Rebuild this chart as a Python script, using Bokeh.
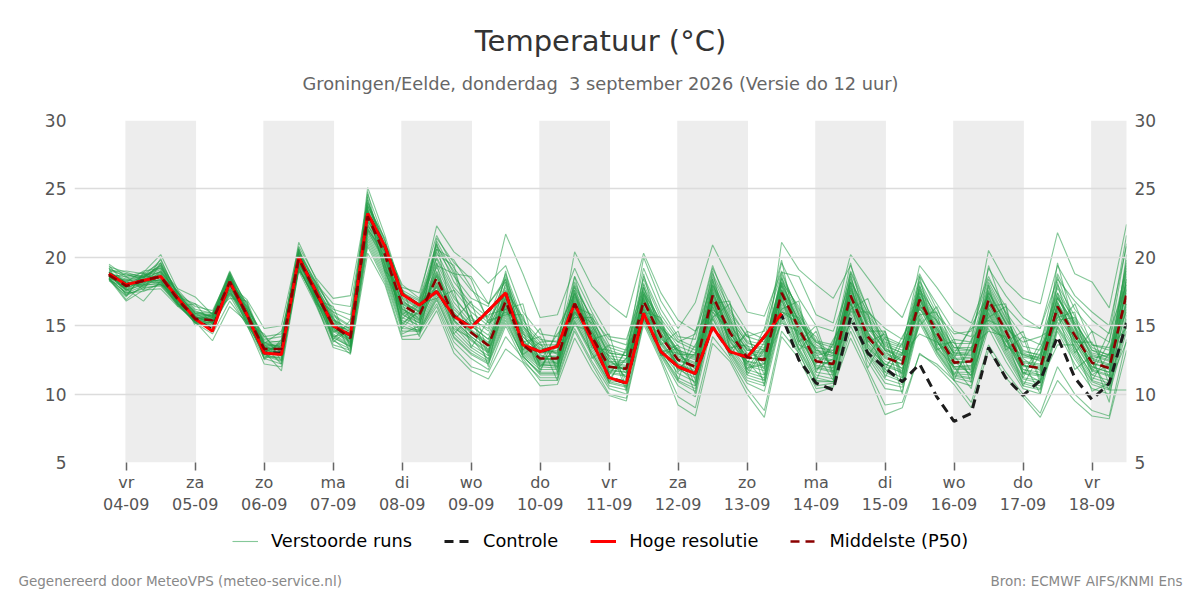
from bokeh.plotting import figure
from bokeh.layouts import column
from bokeh.models import Label, Legend, LegendItem, FixedTicker, LinearAxis
from bokeh.embed import file_html
from bokeh.resources import INLINE

FIRST_HOUR = -6
STEP_HOURS = 6
DAY_LABELS = ["vr\n04-09", "za\n05-09", "zo\n06-09", "ma\n07-09", "di\n08-09", "wo\n09-09", "do\n10-09",
              "vr\n11-09", "za\n12-09", "zo\n13-09", "ma\n14-09", "di\n15-09", "wo\n16-09", "do\n17-09", "vr\n18-09"]
Y_TICKS = [5, 10, 15, 20, 25, 30]

hoge_resolutie = [18.8,18.0,18.3,18.6,17.0,15.5,14.6,18.2,15.8,13.0,12.9,20.0,17.5,15.0,14.3,23.2,20.8,17.3,16.5,17.5,
                  15.7,14.85,16.1,17.4,13.6,13.1,13.5,16.6,13.9,11.2,10.8,15.9,13.1,12.0,11.5,14.9,13.1,12.7,14.2,15.9]
middelste = [18.7,17.9,18.3,18.6,16.9,15.5,15.4,18.2,15.8,13.3,13.3,19.9,17.4,15.0,14.1,23.0,20.2,16.5,15.8,18.5,
             15.7,14.5,13.55,16.8,13.6,12.6,12.6,16.6,14.2,12.0,11.85,16.8,14.2,12.5,12.0,17.2,14.5,12.7,12.5,17.4,
             14.8,12.4,12.2,17.2,14.2,12.7,12.2,16.9,14.5,12.3,12.4,16.9,14.6,12.1,11.9,16.4,14.3,12.3,11.9,17.3]
controle = [18.8,18.0,18.3,18.6,17.0,15.5,14.7,18.2,15.8,13.0,13.0,20.0,17.5,15.0,14.3,23.2,20.8,17.3,16.5,17.5,
            15.7,14.9,16.1,17.4,13.6,13.1,13.5,16.6,13.9,11.2,10.8,15.9,13.1,12.0,11.5,14.9,13.1,12.7,14.2,15.8,
            12.5,10.8,10.3,15.6,13.0,11.9,10.9,12.2,9.8,8.0,8.6,13.4,11.2,9.9,11.0,14.2,11.2,9.6,10.8,15.2]

m01 = [19.5,18.6,18.9,20.2,17.6,16.2,15.9,19.0,16.3,13.9,13.8,21.1,18.4,15.8,15.0,25.1,21.6,17.5,16.4,19.9,17.2,15.4,14.8,18.6,15.0,13.4,13.0,18.2,15.4,13.2,12.8,18.1,15.0,13.2,12.7,18.4,15.2,13.2,12.9,18.8,16.0,13.6,12.9,18.6,15.1,13.6,13.0,18.2,15.4,13.4,13.2,18.0,15.6,13.2,12.8,17.8,15.2,13.4,12.8,19.6]
m02 = [19.0,19.0,18.8,19.6,17.4,16.4,16.1,18.7,16.6,13.6,13.5,20.4,18.0,16.2,15.8,23.8,20.9,18.0,17.0,22.3,20.4,19.4,18.1,19.4,16.0,14.4,14.2,17.8,15.6,14.0,13.6,19.2,16.2,14.2,14.0,19.2,16.6,14.6,14.0,19.6,17.0,15.0,14.6,18.2,16.0,14.8,14.0,17.6,15.8,14.4,14.6,18.4,16.4,15.0,14.8,19.4,17.2,16.0,15.0,20.8]
m03 = [18.6,18.2,19.0,19.2,17.7,17.1,15.8,18.0,16.9,14.8,15.0,20.8,18.5,17.0,17.2,24.2,20.6,17.0,15.4,20.6,18.6,17.0,16.4,21.7,18.8,15.6,15.8,19.2,16.4,14.2,14.0,17.8,14.8,13.8,14.4,19.4,16.0,14.2,13.8,18.2,15.2,13.8,13.4,19.0,16.2,14.2,13.6,18.6,16.6,14.6,14.2,19.2,17.2,15.6,14.8,18.4,16.8,15.4,14.4,21.6]
m04 = [18.9,18.4,18.6,19.8,17.2,15.9,15.7,18.6,15.9,13.8,13.4,20.2,17.8,15.4,14.8,24.6,21.2,17.8,17.4,21.6,19.2,17.6,16.6,18.2,14.8,13.2,13.4,20.4,17.9,16.6,15.6,20.3,17.4,15.4,14.6,18.0,15.4,13.8,13.2,17.6,15.4,13.2,12.8,18.4,15.6,13.8,13.4,19.4,17.8,16.0,15.2,18.6,16.0,14.2,13.6,18.8,16.2,14.6,13.8,19.2]
m05 = [18.5,18.3,18.4,19.0,17.0,15.6,15.5,18.4,16.2,13.4,13.2,19.8,17.2,15.2,14.6,22.8,20.0,16.2,15.6,18.8,16.2,15.0,14.0,17.2,14.2,13.0,13.2,17.2,15.0,13.0,12.8,20.0,16.8,14.8,16.7,20.9,18.4,16.0,15.7,19.0,15.8,13.8,13.0,17.6,15.0,13.2,12.6,17.4,14.8,13.0,12.8,17.4,15.2,13.0,12.6,17.0,15.2,13.2,12.6,18.4]
m06 = [18.8,17.6,18.0,18.4,16.8,15.4,15.2,17.8,15.6,13.2,13.0,19.6,17.2,14.8,13.8,22.4,19.6,16.0,15.2,18.0,15.4,14.2,13.2,16.4,13.4,12.4,12.4,16.2,14.0,11.8,11.6,16.4,13.8,12.2,11.6,16.8,14.2,12.4,12.0,21.1,19.1,18.0,17.0,19.4,16.2,13.4,12.4,16.6,14.2,12.0,12.0,16.6,14.2,11.8,11.4,16.2,14.0,12.0,11.6,17.8]
m07 = [18.6,18.0,18.2,18.8,17.0,15.6,15.6,18.3,15.8,13.4,13.4,19.9,17.5,15.0,14.2,23.2,20.4,16.6,16.0,18.7,15.9,14.6,13.7,17.0,13.8,12.7,12.8,16.8,14.4,12.2,12.0,17.0,14.4,12.7,12.2,17.4,14.7,12.9,12.7,17.6,15.0,12.6,12.4,17.4,14.4,12.9,12.4,17.1,14.7,12.5,12.6,17.1,14.8,12.3,12.1,16.6,14.5,12.5,12.1,17.6]
m08 = [18.7,17.8,18.2,18.4,16.7,15.3,15.2,18.0,15.6,13.2,13.1,19.7,17.2,14.8,13.9,22.7,19.9,16.2,15.5,18.2,15.4,14.2,13.3,16.5,13.3,12.3,12.3,16.3,13.9,11.7,11.6,16.5,13.9,12.2,11.7,16.9,14.2,12.4,12.2,17.1,14.5,12.1,11.9,16.9,13.9,12.4,11.9,16.6,14.2,12.0,12.1,16.6,14.3,11.8,11.6,16.1,14.0,12.0,11.6,17.0]
m09 = [18.4,17.4,17.9,18.2,16.6,15.2,15.0,17.6,15.4,13.0,12.8,19.4,17.0,14.4,13.6,22.0,19.4,15.6,15.0,17.6,15.0,13.6,12.8,16.0,13.0,12.0,11.9,15.8,13.4,11.2,11.0,16.0,13.4,11.8,11.2,16.4,13.6,11.8,11.4,16.6,14.0,11.6,11.4,16.4,13.4,11.8,11.2,16.0,13.6,11.6,11.6,16.0,13.6,11.2,11.0,15.6,13.4,11.4,11.0,16.4]
m10 = [18.9,18.2,18.5,18.9,17.1,15.7,15.7,18.5,16.0,13.5,13.6,20.1,17.6,15.3,14.4,23.4,20.6,17.0,16.2,19.0,16.4,15.0,14.0,17.4,14.2,13.0,13.0,17.0,14.6,12.4,12.3,17.2,14.7,13.0,12.5,17.7,15.0,13.2,13.0,17.9,15.3,13.0,12.7,17.7,14.8,13.2,12.8,17.4,15.0,12.9,13.0,17.4,15.1,12.7,12.5,17.0,14.8,12.8,12.4,18.0]
m11 = [19.1,18.8,18.6,19.4,17.3,15.9,15.8,18.8,16.1,13.7,13.9,20.5,17.9,15.7,14.9,23.8,20.9,17.4,16.8,20.0,17.6,16.0,15.0,18.0,15.0,13.6,13.6,17.6,15.2,13.0,12.8,17.8,15.2,13.5,13.0,18.2,15.6,13.7,13.4,18.4,15.8,13.4,13.2,18.2,15.4,13.7,13.2,17.9,15.6,13.4,13.4,17.8,15.5,13.1,12.9,17.4,15.4,13.2,12.9,18.8]
m12 = [18.3,17.2,17.8,17.9,16.5,15.2,14.8,17.4,15.2,12.8,12.4,19.2,16.8,14.2,13.4,21.6,19.0,15.2,14.6,17.2,14.4,13.2,12.4,15.6,12.7,11.6,11.6,15.4,13.0,10.9,10.6,15.6,13.0,11.2,10.6,15.8,13.2,11.4,11.0,16.2,13.4,11.2,10.9,15.9,13.0,11.4,10.9,15.6,13.2,11.4,11.2,15.6,13.2,10.9,10.6,15.0,13.0,11.0,10.6,15.8]
m13 = [18.4,16.8,17.6,17.7,16.4,15.4,15.0,17.2,15.0,12.6,12.2,19.0,16.5,13.6,13.2,21.0,18.4,14.6,14.6,16.6,13.8,12.6,11.8,15.0,12.4,11.2,11.2,14.8,12.4,10.4,10.0,15.4,12.8,10.6,9.8,15.2,12.8,10.8,10.2,15.4,13.0,10.6,10.8,15.0,12.4,10.4,10.2,15.2,12.8,11.0,10.6,14.8,12.4,10.4,10.0,14.6,12.2,10.4,10.0,14.6]
m14 = [18.6,17.7,16.8,18.3,16.6,15.3,13.9,16.4,15.3,13.1,11.7,19.1,17.0,14.0,12.9,20.3,18.0,14.0,14.0,16.1,13.0,11.7,11.1,13.3,12.3,10.6,10.7,14.1,11.8,9.9,9.5,15.1,12.4,9.2,8.4,13.7,12.4,10.0,8.3,14.2,12.6,10.1,10.5,14.1,11.5,8.5,9.0,13.0,12.0,10.7,9.0,13.2,11.2,9.8,8.3,11.0,9.5,8.4,8.2,13.2]
m15 = [18.5,16.9,18.0,18.0,16.6,15.2,14.4,16.8,15.1,12.2,12.0,19.3,16.7,13.4,13.0,20.8,18.2,14.2,14.4,16.4,13.4,12.0,11.6,14.2,12.6,11.0,11.0,14.6,12.2,10.0,9.7,15.3,12.6,9.8,9.0,14.2,12.6,10.4,8.8,14.6,13.0,10.4,10.6,14.6,11.8,9.2,9.4,12.9,12.2,11.0,9.4,13.6,11.6,10.0,8.6,12.0,10.0,8.8,8.4,14.0]
m16 = [18.7,18.1,18.3,18.6,16.9,15.4,15.4,18.1,15.7,13.3,13.3,19.9,17.3,15.1,14.1,23.1,20.3,16.4,15.8,18.4,15.8,14.4,13.5,16.9,13.5,12.5,12.6,16.7,14.1,11.9,11.9,16.7,14.3,12.4,12.1,17.1,14.4,12.7,12.4,17.5,14.7,12.4,12.1,17.2,14.1,12.6,12.2,16.8,14.4,12.2,12.4,16.8,14.5,12.1,11.8,16.3,14.2,12.3,11.8,16.8]
m17 = [18.6,17.9,18.4,18.5,16.8,15.6,15.3,18.2,15.9,13.2,13.4,19.8,17.4,14.9,14.0,22.9,20.1,16.6,15.7,18.6,15.6,14.6,13.6,16.7,13.7,12.6,12.5,16.5,14.3,12.1,11.8,16.9,14.1,12.6,11.9,17.3,14.6,12.6,12.6,17.3,14.9,12.3,12.3,17.1,14.3,12.8,12.1,17.0,14.6,12.4,12.3,17.0,14.7,12.0,12.0,16.5,14.4,12.2,12.0,17.4]
m18 = [18.8,17.5,18.1,18.2,16.7,15.3,15.1,17.9,15.5,13.1,12.9,19.5,17.1,14.6,13.7,22.2,19.5,15.8,15.2,17.9,15.1,13.9,13.0,16.2,13.1,12.1,12.1,16.0,13.6,11.5,11.3,16.2,13.6,12.0,11.4,16.6,13.9,12.1,11.7,16.8,14.2,11.9,11.6,16.6,13.6,12.0,11.6,16.3,13.9,11.8,11.8,16.3,13.9,11.5,11.3,15.8,13.7,11.7,11.3,16.2]
m19 = [19.2,18.5,18.7,19.2,17.2,16.0,15.9,18.6,16.0,13.6,13.7,20.3,17.7,15.5,14.7,23.6,20.7,17.2,16.6,19.6,17.0,15.6,14.6,17.8,14.6,13.3,13.4,17.4,15.0,12.8,12.6,17.5,15.0,13.2,12.8,17.9,15.3,13.5,13.2,18.1,15.6,13.2,13.0,18.0,15.2,13.5,13.0,17.7,15.3,13.2,13.2,17.6,15.3,12.9,12.7,17.2,15.0,13.0,12.7,18.4]
m20 = [18.5,17.3,17.7,18.0,16.5,15.3,14.9,17.5,15.2,12.9,12.6,19.2,16.9,14.3,13.5,21.8,19.2,15.4,14.8,17.4,14.7,13.4,12.6,15.8,12.9,11.8,11.8,15.6,13.2,11.0,10.8,15.8,13.2,11.5,10.9,16.1,13.4,11.6,11.2,16.4,13.7,11.4,11.1,16.2,13.2,11.6,11.0,15.8,13.4,11.5,11.4,15.8,13.4,11.1,10.8,15.3,13.2,11.2,10.8,15.2]
m21 = [19.3,18.9,18.5,19.5,17.4,16.1,15.6,18.9,16.5,14.0,14.2,20.6,18.1,16.6,16.4,24.0,21.2,17.6,16.9,21.0,18.2,16.6,15.6,18.8,15.4,14.0,13.8,18.6,16.0,13.6,13.2,18.6,15.8,14.0,13.4,18.8,16.2,14.2,14.6,18.9,18.6,15.8,15.2,20.2,18.5,16.8,15.6,18.8,16.2,14.0,13.8,20.5,18.2,17.0,16.6,21.8,18.8,18.2,16.3,22.4]
m22 = [18.4,17.1,18.9,18.1,16.9,15.5,15.3,17.7,15.4,12.7,12.7,19.3,16.6,13.9,13.3,21.4,18.8,15.0,14.5,16.9,14.1,12.9,12.2,15.2,12.8,11.4,11.4,15.2,12.8,10.6,10.3,15.7,12.9,10.9,10.2,15.5,13.0,11.0,10.6,15.6,13.2,10.9,10.9,15.4,12.7,10.8,10.5,15.4,13.0,11.2,10.9,15.2,12.8,10.6,10.3,14.8,12.6,10.7,10.3,15.0]
m23 = [18.9,18.1,18.1,18.7,17.0,15.5,15.5,18.3,15.7,13.4,13.2,20.0,17.5,15.1,14.2,23.3,20.5,16.8,16.0,18.9,16.0,14.7,13.8,17.1,13.9,12.8,12.7,16.9,14.5,12.3,12.1,17.1,14.5,12.8,12.3,17.5,14.8,13.0,12.8,17.7,15.1,12.7,12.5,17.5,14.5,13.0,12.5,17.2,14.8,12.6,12.7,17.2,14.9,12.4,12.2,16.7,14.6,12.6,12.2,17.7]
m24 = [18.6,17.6,18.2,18.3,16.8,15.4,15.2,18.0,15.6,13.2,13.0,19.6,17.3,14.7,13.8,22.5,19.7,16.1,15.4,18.1,15.3,14.0,13.1,16.3,13.2,12.2,12.2,16.1,13.7,11.6,11.4,16.3,13.7,12.1,11.5,16.7,14.0,12.2,11.9,16.9,14.3,12.0,11.7,16.7,13.7,12.2,11.7,16.4,14.0,11.9,11.9,16.4,14.1,11.6,11.4,15.9,13.8,11.8,11.4,16.6]
m25 = [18.7,18.0,18.4,18.8,16.9,15.5,15.6,18.2,15.9,13.3,13.3,19.9,17.4,15.2,14.3,23.0,20.2,16.7,16.1,18.6,15.8,14.5,13.6,16.8,13.6,12.6,12.6,16.6,14.2,12.0,11.9,16.8,14.2,12.5,12.0,17.2,14.5,12.7,12.5,17.4,14.8,12.4,12.2,17.2,14.2,12.7,12.2,16.9,14.5,12.3,12.4,16.9,14.6,12.1,11.9,16.4,14.3,12.3,10.3,10.3]
m26 = [18.8,18.3,18.6,19.1,17.1,15.8,15.7,18.5,16.0,13.5,13.5,20.2,17.7,15.4,14.5,23.5,20.5,17.1,16.3,19.3,16.7,15.2,14.3,17.5,14.4,13.1,13.1,17.1,14.8,12.6,12.4,17.3,14.8,13.1,12.6,17.8,15.1,13.3,13.1,18.0,15.4,13.1,12.8,17.8,15.0,13.3,12.9,17.5,15.2,13.0,13.1,17.5,15.2,12.8,12.6,17.1,14.9,12.9,12.5,18.2]
m27 = [18.5,17.4,17.5,18.1,16.6,15.3,15.0,17.6,15.3,12.9,12.5,19.3,16.8,14.1,13.5,21.2,18.6,14.8,14.7,17.0,14.2,13.0,12.3,15.4,12.8,11.5,11.5,15.3,13.0,10.8,10.5,15.5,13.1,11.0,10.4,15.6,13.1,11.2,10.8,15.8,13.3,11.0,10.9,15.6,12.9,11.1,10.7,15.5,13.1,11.3,11.1,15.4,13.0,10.8,10.4,14.9,12.8,10.9,10.4,15.5]
m28 = [19.0,18.7,18.5,19.3,17.3,16.0,15.7,18.7,16.2,14.2,14.4,20.4,18.2,16.0,15.4,24.0,21.0,17.4,16.6,20.4,17.8,16.4,15.2,18.4,15.2,13.8,13.9,18.0,15.4,13.4,13.0,18.4,15.5,13.8,13.2,18.6,15.8,13.9,13.6,18.5,16.2,13.9,13.6,18.9,15.8,14.0,13.5,18.3,15.9,13.7,13.7,18.2,15.9,13.5,13.2,18.0,15.7,13.6,13.2,19.0]
m29 = [18.9,17.6,18.5,19.4,16.8,15.7,15.0,18.4,16.4,14.2,13.0,20.3,17.0,16.0,13.6,24.4,19.2,15.2,16.0,20.8,19.0,15.8,12.8,17.6,15.6,12.4,14.4,15.6,15.6,11.4,13.2,16.0,15.6,11.6,13.6,15.6,16.6,11.8,13.8,16.2,16.8,11.6,14.0,16.0,16.0,11.2,13.8,15.8,16.0,11.0,14.0,15.6,16.4,11.2,13.4,15.6,16.0,11.0,13.0,16.0]
m30 = [18.4,18.4,17.9,19.0,17.4,15.2,15.8,17.4,16.2,12.6,14.0,19.4,17.8,14.0,15.4,22.0,20.4,15.0,16.6,17.0,17.6,13.4,15.4,15.8,15.8,11.8,13.8,16.0,15.2,10.8,13.4,17.6,13.0,13.6,10.6,18.4,13.2,14.4,11.4,17.0,13.2,14.6,11.2,18.2,12.8,14.6,10.8,17.8,13.2,14.0,10.8,18.0,13.2,14.2,10.8,18.2,13.0,14.6,10.6,19.4]
m31 = [18.7,18.6,17.6,19.6,16.6,15.8,15.4,17.9,16.7,13.0,13.7,20.6,16.9,16.4,13.4,23.4,19.0,17.7,14.6,19.4,18.8,18.6,16.6,18.4,13.8,14.2,11.9,17.9,13.4,13.2,11.0,18.8,14.0,13.2,11.4,18.0,15.6,11.6,13.4,18.2,16.4,12.2,13.6,19.6,14.6,14.6,11.4,18.6,13.6,13.8,11.6,16.4,16.6,11.4,13.8,17.4,13.8,13.8,11.2,20.2]
m32 = [19.2,17.2,18.8,18.0,17.5,15.6,14.6,18.8,15.2,14.4,12.4,19.6,18.2,13.8,14.8,22.6,20.9,14.8,16.2,21.0,15.4,16.8,13.0,19.0,13.2,14.8,11.6,18.6,14.0,14.4,10.4,17.4,15.4,11.0,14.6,16.2,15.0,12.2,14.8,19.8,13.8,15.0,11.4,17.0,15.8,11.8,14.2,16.2,15.0,12.6,15.0,17.2,13.8,14.6,11.0,19.6,14.8,11.8,14.6,18.0]
m33 = [18.5,18.8,18.3,18.3,16.4,16.6,15.9,17.0,16.8,13.7,14.6,19.0,17.6,14.6,14.9,21.9,19.8,16.6,14.2,20.2,19.4,15.0,15.8,16.2,16.6,12.0,13.6,16.4,15.8,12.6,11.2,16.2,13.6,14.6,11.0,16.6,16.8,11.4,13.2,16.0,15.2,14.2,11.6,16.2,17.0,13.2,11.8,15.0,16.4,13.0,14.8,15.4,14.8,13.8,14.2,15.0,16.6,13.6,13.4,14.8]
m34 = [18.9,17.9,18.7,18.9,17.5,15.0,15.6,18.1,15.0,13.5,12.2,20.0,16.6,15.6,13.0,23.7,21.4,14.4,15.0,19.6,14.4,15.8,12.0,18.2,12.9,13.8,11.0,17.6,12.6,13.6,10.2,18.0,12.8,13.4,10.0,17.0,12.8,14.6,10.6,17.2,14.0,11.0,13.8,16.8,11.9,14.2,10.0,17.2,14.0,11.4,13.4,14.6,14.2,10.6,13.0,16.0,11.8,12.8,9.4,18.6]
m35 = [19.4,18.0,18.0,19.9,17.1,16.6,15.1,17.3,16.0,13.8,13.1,20.7,16.8,14.9,14.0,24.8,19.4,15.8,16.8,20.6,19.8,17.8,15.4,17.4,14.4,13.6,12.9,15.0,14.6,12.4,11.7,16.6,15.2,12.9,12.9,16.4,14.0,13.4,12.2,16.0,15.6,12.8,13.2,16.6,14.0,12.1,13.0,16.4,15.4,12.8,12.9,15.9,13.5,12.9,12.4,15.4,15.6,12.6,12.9,16.6]
m36 = [18.3,17.8,18.6,18.5,16.8,15.9,15.3,17.7,16.4,12.5,13.6,19.5,17.9,15.6,13.9,23.5,18.9,16.3,15.3,21.2,18.8,15.2,15.0,17.0,14.6,11.6,14.8,17.3,13.8,12.8,11.5,17.3,14.6,11.8,13.0,19.0,13.4,13.6,11.8,18.6,14.4,13.4,11.9,17.9,13.8,14.4,11.2,17.0,13.8,12.8,11.3,19.4,15.8,12.6,11.7,18.6,15.0,11.6,13.8,21.0]
m37 = [18.8,18.2,17.8,18.7,16.6,15.4,15.9,18.9,15.5,13.0,13.8,19.8,17.0,14.5,15.1,22.3,20.7,15.5,16.7,17.8,14.8,14.1,12.5,16.6,14.0,12.2,12.0,15.9,14.8,11.1,12.6,15.7,14.9,12.0,10.8,16.0,14.7,11.9,12.2,15.2,14.6,11.8,12.6,15.2,14.6,11.6,12.9,14.4,13.8,12.4,11.4,15.0,14.0,11.6,10.9,13.6,13.6,10.2,10.8,13.8]
m38 = [18.6,17.7,18.4,18.0,17.1,15.7,15.2,18.5,15.7,13.6,12.8,20.2,17.6,14.2,14.5,22.1,20.0,15.9,14.9,21.4,19.6,18.4,15.2,16.0,15.0,12.9,12.2,17.4,14.4,11.6,12.6,17.0,13.2,13.0,11.8,17.6,13.8,12.4,11.0,18.0,13.6,13.0,11.0,18.8,13.4,12.2,11.5,18.0,13.4,12.0,10.4,16.2,13.6,12.4,10.0,16.8,13.4,11.4,12.2,19.8]
members = [m01,m02,m03,m04,m05,m06,m07,m08,m09,m10,m11,m12,m13,m14,m15,m16,m17,m18,m19,m20,
           m21,m22,m23,m24,m25,m26,m27,m28,m29,m30,m31,m32,m33,m34,m35,m36,m37,m38]

hours = [FIRST_HOUR + STEP_HOURS * i for i in range(len(m01))]
day_ticks = [24 * d for d in range(len(DAY_LABELS))]

FIG_W = 1190
ENS = dict(line_color="#209a45", line_alpha=0.55, line_width=1.1)
CTL = dict(line_color="#1c1c1c", line_width=3, line_dash=[9, 6])
HOG = dict(line_color="#ff0000", line_width=3)
MID = dict(line_color="#8b0000", line_width=2.6, line_dash=[9, 6])


def text_strip(height, entries):
    f = figure(width=FIG_W, height=height, output_backend="svg", toolbar_location=None,
               x_axis_type=None, y_axis_type=None, x_range=(0, 1), y_range=(0, 1),
               min_border=0, outline_line_color=None, border_fill_color="white", frame_align=False)
    f.xgrid.visible = False
    f.ygrid.visible = False
    for s, x, y, size, color, align in entries:
        f.add_layout(Label(x=x, y=y, x_units="screen", y_units="screen", text=s, text_font="DejaVu Sans",
                           text_font_size=size, text_color=color, text_align=align, text_baseline="middle"))
    return f


header = text_strip(110, [
    ("Temperatuur (°C)", 600, 70, "29px", "#333333", "center"),
    ("Groningen/Eelde, donderdag\u00a0 3 september 2026 (Versie do 12 uur)", 600, 27, "17.8px", "#666666", "center"),
])
footer = text_strip(75, [
    ("Gegenereerd door MeteoVPS (meteo-service.nl)", 18, 15, "13.5px", "#888888", "left"),
    ("Bron: ECMWF AIFS/KNMI Ens", 1182, 15, "13.5px", "#888888", "right"),
])

p = figure(width=FIG_W, height=410, output_backend="svg", toolbar_location=None,
           x_range=(-18, 348), y_range=(5, 30), min_border_left=74, min_border_right=64,
           min_border_top=10, min_border_bottom=58, outline_line_color=None,
           background_fill_color="white", border_fill_color="white", frame_align=False)

p.quad(left=[h - 0.3 for h in day_ticks[::2]], right=[h + 24.3 for h in day_ticks[::2]],
       bottom=5, top=30, fill_color="#ededed", line_color=None, level="underlay")

p.xgrid.visible = False
p.ygrid.level = "glyph"
p.ygrid.grid_line_color = "#dcdcdc"
p.ygrid.grid_line_width = 1.3
p.ygrid.ticker = FixedTicker(ticks=Y_TICKS)

p.xaxis.ticker = FixedTicker(ticks=day_ticks)
p.xaxis.major_label_overrides = {h: s for h, s in zip(day_ticks, DAY_LABELS)}
p.xaxis.axis_line_color = None
p.xaxis.major_tick_line_color = "#666666"
p.xaxis.major_tick_line_width = 1.5
p.xaxis.major_tick_in = 0
p.xaxis.major_tick_out = 8
p.xaxis.minor_tick_line_color = None
p.xaxis.major_label_text_font = "DejaVu Sans"
p.xaxis.major_label_text_font_size = "16px"
p.xaxis.major_label_text_color = "#555555"
p.xaxis.major_label_standoff = 2

p.yaxis.ticker = FixedTicker(ticks=Y_TICKS)
p.add_layout(LinearAxis(ticker=FixedTicker(ticks=Y_TICKS)), "right")
for ax in p.yaxis:
    ax.axis_line_color = None
    ax.major_tick_line_color = None
    ax.major_tick_out = 0
    ax.minor_tick_line_color = None
    ax.major_label_text_font = "DejaVu Sans"
    ax.major_label_text_font_size = "17px"
    ax.major_label_text_color = "#555555"
    ax.major_label_standoff = 8

p.multi_line(xs=[hours] * len(members), ys=members, **ENS)
p.line(hours, controle, **CTL)
p.line(hours[:len(hoge_resolutie)], hoge_resolutie, **HOG)
p.line(hours, middelste, **MID)

# The legend sits in the strip under the plot. Its keys carry the same series with the same styles;
# that strip's 0-1 ranges leave the series themselves out of view, so only the keys show.
key_ens = footer.line(hours, m01, **ENS)
key_ctl = footer.line(hours, controle, **CTL)
key_hog = footer.line(hours[:len(hoge_resolutie)], hoge_resolutie, **HOG)
key_mid = footer.line(hours, middelste, **MID)
legend = Legend(items=[LegendItem(label="Verstoorde runs", renderers=[key_ens]),
                       LegendItem(label="Controle", renderers=[key_ctl]),
                       LegendItem(label="Hoge resolutie", renderers=[key_hog]),
                       LegendItem(label="Middelste (P50)", renderers=[key_mid])],
                orientation="horizontal", location=(232, 44), spacing=32, glyph_width=26, glyph_height=12,
                label_standoff=13, padding=0, margin=0, border_line_color=None, background_fill_alpha=0,
                label_text_font="DejaVu Sans", label_text_font_size="17.8px", label_text_color="#000000")
footer.add_layout(legend, "center")

page = column(header, p, footer, spacing=0)
open("out.html", "w").write(file_html(page, INLINE))
